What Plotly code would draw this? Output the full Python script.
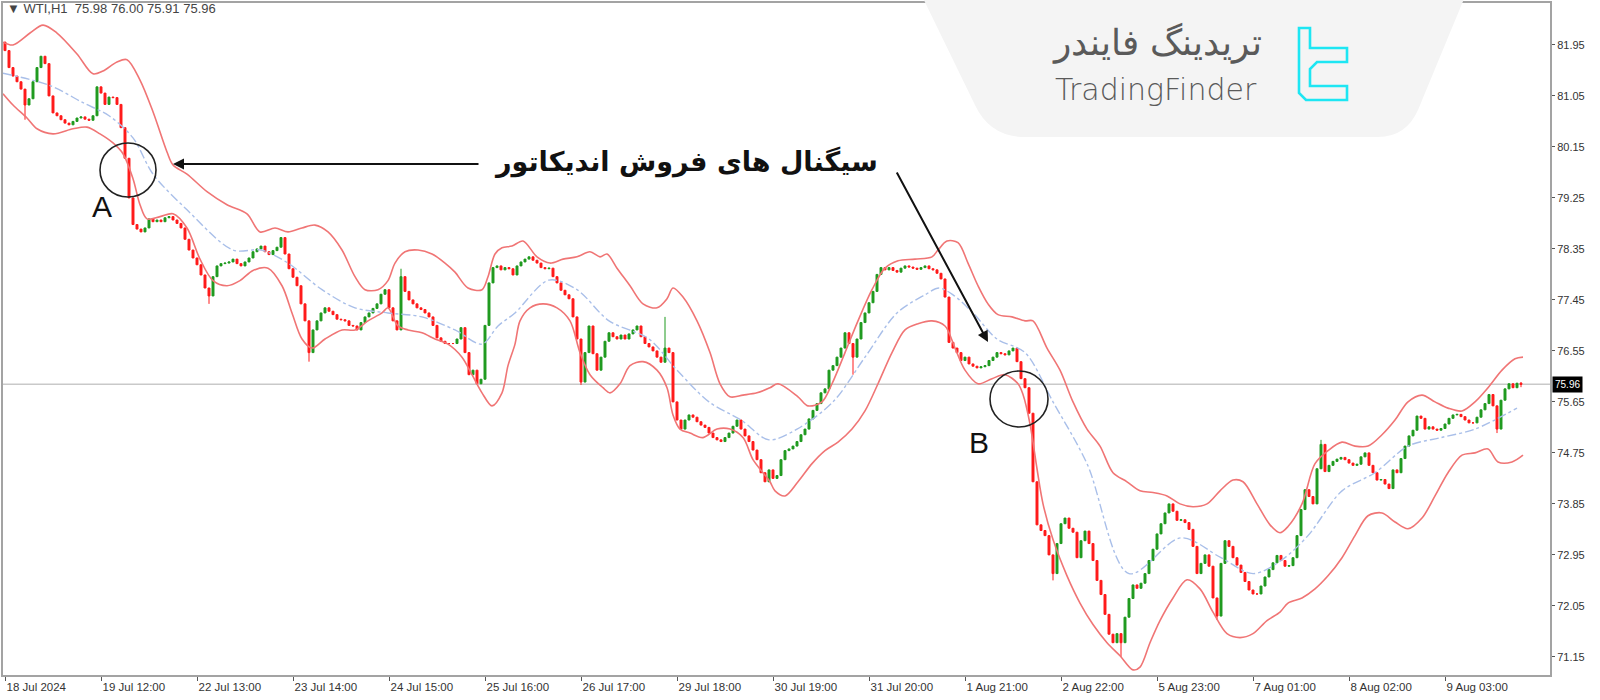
import plotly.graph_objects as go

W, H = 1600, 700
ML, MR, MT, MB = 3, 50, 3, 25
PW, PH = W - ML - MR, H - MT - MB

# ---------------- data ----------------
first_open = 82.00
closes = [
    81.85, 81.55, 81.40, 81.30, 81.17, 80.89, 81.00, 81.30, 81.55, 81.75, 81.62, 81.05, 80.75, 80.70, 80.63, 80.57, 80.54, 80.60, 80.66, 80.68, 80.64, 80.62, 80.70, 81.21,
    81.10, 80.90, 81.03, 81.02, 80.90, 80.49, 79.95, 79.25, 78.78, 78.70, 78.65, 78.72, 78.88, 78.83, 78.86, 78.83, 78.90, 78.92, 78.86, 78.80, 78.72, 78.52, 78.33, 78.19,
    78.07, 77.89, 77.66, 77.52, 77.86, 78.05, 78.09, 78.10, 78.12, 78.17, 78.09, 78.05, 78.12, 78.19, 78.30, 78.35, 78.40, 78.30, 78.25, 78.32, 78.38, 78.55, 78.26, 78.00,
    77.85, 77.70, 77.38, 77.08, 76.52, 76.92, 77.08, 77.22, 77.31, 77.25, 77.19, 77.11, 77.10, 77.08, 77.00, 76.99, 76.92, 77.05, 77.15, 77.22, 77.30, 77.38, 77.55, 77.63,
    77.31, 77.08, 76.92, 77.86, 77.60, 77.45, 77.38, 77.31, 77.28, 77.22, 77.15, 77.00, 76.78, 76.72, 76.68, 76.68, 76.68, 76.76, 76.96, 76.52, 76.13, 76.21, 75.97, 76.05,
    77.00, 77.75, 78.02, 78.05, 77.98, 78.02, 78.00, 77.89, 78.05, 78.12, 78.17, 78.21, 78.15, 78.10, 78.02, 78.00, 78.01, 77.86, 77.75, 77.62, 77.54, 77.47, 77.15, 76.76,
    76.00, 76.52, 76.99, 76.50, 76.21, 76.44, 76.72, 76.87, 76.80, 76.76, 76.83, 76.76, 76.85, 76.92, 76.99, 76.80, 76.68, 76.62, 76.55, 76.44, 76.35, 76.60, 76.52, 75.65,
    75.33, 75.17, 75.33, 75.42, 75.38, 75.30, 75.24, 75.20, 75.10, 75.02, 74.98, 74.95, 75.02, 75.10, 75.22, 75.33, 75.17, 75.05, 74.95, 74.80, 74.63, 74.40, 74.24, 74.45,
    74.30, 74.35, 74.63, 74.79, 74.82, 74.87, 74.95, 75.07, 75.17, 75.35, 75.50, 75.62, 75.81, 75.88, 76.21, 76.29, 76.44, 76.60, 76.87, 76.68, 76.44, 76.76, 77.05, 77.22,
    77.40, 77.60, 77.90, 78.02, 77.98, 78.02, 77.97, 77.94, 78.01, 78.05, 78.03, 78.01, 77.99, 78.02, 78.05, 78.00, 77.98, 77.92, 77.82, 77.50, 76.70, 76.60, 76.52, 76.38,
    76.44, 76.32, 76.28, 76.25, 76.27, 76.29, 76.38, 76.44, 76.52, 76.50, 76.48, 76.55, 76.60, 76.36, 76.06, 75.90, 75.45, 74.24, 73.48, 73.38, 73.29, 72.95, 72.62, 73.15,
    73.50, 73.60, 73.42, 73.35, 72.90, 73.20, 73.37, 73.15, 72.85, 72.50, 72.25, 71.90, 71.55, 71.40, 71.56, 71.40, 71.85, 72.18, 72.42, 72.36, 72.45, 72.62, 72.85, 73.05,
    73.32, 73.50, 73.69, 73.85, 73.72, 73.56, 73.57, 73.52, 73.40, 73.10, 72.62, 72.80, 72.95, 72.75, 72.19, 71.87, 72.80, 73.20, 73.10, 72.90, 72.77, 72.64, 72.48, 72.33,
    72.26, 72.26, 72.40, 72.56, 72.69, 72.81, 72.94, 72.85, 72.75, 72.76, 72.90, 73.29, 73.75, 74.10, 73.98, 73.85, 74.47, 74.90, 74.42, 74.53, 74.60, 74.64, 74.67, 74.63,
    74.57, 74.53, 74.55, 74.68, 74.75, 74.53, 74.40, 74.27, 74.28, 74.20, 74.12, 74.45, 74.40, 74.65, 74.87, 75.05, 75.15, 75.40, 75.36, 75.17, 75.21, 75.17, 75.15, 75.18,
    75.26, 75.36, 75.42, 75.43, 75.39, 75.33, 75.28, 75.28, 75.38, 75.51, 75.62, 75.78, 75.58, 75.17, 75.68, 75.88, 75.97, 75.90, 75.98, 75.96,
]
spike_high = [(99, 78.00), (165, 77.15), (329, 74.98), (379, 76.00)]
spike_low = [(5, 80.63), (51, 77.38), (76, 76.36), (144, 75.95), (212, 76.13),
             (262, 72.50), (279, 71.15), (303, 71.80), (373, 75.10), (379, 75.91)]

upper_band = [(-0.5, 82.00), (2, 81.95), (6.25, 82.16), (9.5, 82.30), (13, 82.16), (18, 81.79), (22, 81.44), (24.5, 81.49),
    (28, 81.65), (30.5, 81.69), (33.75, 81.33), (37, 80.77), (40.5, 80.06), (42, 79.83), (45.5, 79.67), (50.5, 79.36),
    (55.5, 79.13), (60.5, 78.97), (63.75, 78.65), (67.5, 78.72), (70.75, 78.65), (74.25, 78.72), (77.5, 78.77), (80.75, 78.65),
    (84.25, 78.33), (87.5, 77.86), (90, 77.63), (93.25, 77.63), (95.75, 77.79), (97.5, 78.10), (100, 78.30), (103.25, 78.33),
    (106.75, 78.26), (110, 78.10), (112.5, 77.94), (115.75, 77.66), (119.25, 77.63), (120.75, 77.86), (122.5, 78.26), (124.25, 78.37),
    (126.75, 78.40), (129.5, 78.49), (133, 78.21), (136.25, 78.10), (139.5, 78.17), (143, 78.21), (146.25, 78.30), (148.75, 78.21),
    (150.5, 78.26), (153, 78.01), (156.25, 77.70), (159.5, 77.38), (163, 77.31), (165.5, 77.47), (167, 77.66), (169.5, 77.50),
    (173, 77.08), (176.25, 76.52), (178.75, 75.97), (181.25, 75.74), (184.5, 75.77), (188, 75.81), (191.25, 75.90), (193.25, 75.97),
    (198.25, 75.74), (200.75, 75.58), (204.25, 75.65), (206.75, 75.97), (210, 76.52), (213.25, 77.08), (216.75, 77.63), (220, 78.01),
    (223.25, 78.14), (227.5, 78.17), (231.75, 78.21), (233.25, 78.33), (235.5, 78.49), (238.25, 78.46), (240.75, 78.10), (243.25, 77.70),
    (245.75, 77.38), (248.25, 77.19), (251.75, 77.15), (255, 77.08), (257, 77.08), (260.5, 76.60), (263.75, 76.21), (267, 75.65),
    (270.5, 75.17), (273.75, 74.87), (277, 74.40), (280.5, 74.24), (283.75, 74.08), (287, 74.05), (290.5, 73.99), (293.75, 73.85),
    (297, 73.80), (300.5, 73.85), (303.75, 74.08), (307, 74.27), (309.5, 74.24), (313, 73.85), (316.25, 73.48), (318.75, 73.34),
    (320.75, 73.45), (324.25, 73.85), (327.5, 74.56), (330.75, 74.79), (334.25, 74.94), (337.5, 74.87), (340.75, 74.87), (344.25, 75.07),
    (347.5, 75.33), (350.75, 75.65), (354.25, 75.77), (357.5, 75.65), (360.75, 75.54), (364.25, 75.49), (367.5, 75.65), (370.75, 75.90),
    (374.25, 76.21), (377.5, 76.41), (379.5, 76.44)]

lower_band = [(-0.5, 81.09), (2, 80.89), (5.5, 80.66), (8, 80.47), (12, 80.38), (17, 80.47), (20.5, 80.50), (23.75, 80.38),
    (27, 80.22), (29.5, 80.03), (32, 79.59), (33.75, 79.13), (35.5, 78.88), (38.75, 78.92), (42, 78.97), (45.5, 78.72),
    (48.75, 78.17), (52, 77.79), (55.5, 77.70), (58.75, 77.79), (62, 77.97), (65.75, 78.01), (69.25, 77.70), (71.75, 77.22),
    (74.25, 76.76), (76.75, 76.60), (80, 76.76), (84.25, 76.92), (87.5, 76.92), (90.75, 77.08), (94.25, 77.22), (95.75, 77.31),
    (98.25, 76.99), (100.75, 76.92), (104.25, 76.87), (107.5, 76.76), (110.75, 76.67), (114.25, 76.44), (116.75, 76.13), (119.25, 75.81),
    (121.75, 75.58), (124.25, 75.81), (125.75, 76.29), (127.5, 76.67), (128.75, 77.08), (131.25, 77.31), (134.5, 77.38), (138, 77.31),
    (141.25, 77.08), (143.75, 76.52), (146.25, 76.13), (149.5, 75.90), (151.25, 75.81), (153.75, 75.97), (156.25, 76.29), (159.5, 76.36),
    (163, 76.21), (165.5, 75.90), (167, 75.42), (168.75, 75.17), (171.25, 75.10), (174.5, 75.02), (178, 75.17), (181.25, 75.17),
    (184.5, 75.02), (187, 74.63), (189.5, 74.40), (191.25, 74.24), (192.5, 74.08), (195, 73.99), (198.25, 74.24), (201.75, 74.56),
    (205, 74.79), (208.25, 74.94), (211.75, 75.17), (215, 75.49), (218.25, 75.97), (221.75, 76.52), (225, 76.92), (228.25, 77.03),
    (231.75, 77.08), (235, 76.99), (237.5, 76.60), (240, 76.21), (243.25, 75.97), (246.75, 76.06), (250, 76.13), (253.25, 75.97),
    (254.5, 75.78), (256.25, 75.26), (258, 74.47), (259.5, 73.85), (262, 73.22), (265.5, 72.58), (268.75, 72.10), (272, 71.72),
    (275.5, 71.40), (278.75, 71.17), (282, 70.92), (283.75, 70.97), (286.25, 71.40), (288.75, 71.79), (292, 72.19), (295.5, 72.51),
    (298.75, 72.35), (302, 71.94), (305.5, 71.56), (308.75, 71.49), (312, 71.56), (315.5, 71.79), (318.75, 71.94), (320.75, 72.10),
    (324.25, 72.19), (327.5, 72.35), (330.75, 72.58), (334.25, 72.90), (337.5, 73.29), (340.75, 73.64), (344.25, 73.69), (347.5, 73.53),
    (350.75, 73.41), (354.25, 73.60), (357.5, 73.99), (360.75, 74.40), (364.25, 74.71), (367.5, 74.75), (370.75, 74.82), (373.25, 74.59),
    (376.75, 74.59), (379.5, 74.71)]

middle_band = [(-0.5, 81.45), (11, 81.24), (19.5, 80.93), (26, 80.70), (32, 80.31), (37, 79.67), (45.5, 79.04), (57, 78.33),
    (64, 78.33), (70.75, 78.10), (79.25, 77.63), (87.5, 77.31), (95.75, 77.22), (104.25, 77.15), (112.5, 76.92), (119.25, 76.67),
    (123.25, 76.99), (127.5, 77.22), (136, 77.80), (143, 77.63), (151, 77.08), (161, 76.76), (168, 76.21), (176, 75.65),
    (184, 75.33), (191, 74.98), (198, 75.17), (207, 75.65), (215, 76.44), (223, 77.22), (230, 77.54), (233.5, 77.66),
    (237, 77.54), (242, 77.22), (248, 76.76), (255, 76.52), (262, 75.65), (270.5, 74.56), (281, 72.62), (294, 73.25),
    (304, 72.90), (312, 72.62), (319, 72.85), (325.75, 73.29), (334.25, 74.08), (342.5, 74.40), (350.75, 74.87), (359, 75.02),
    (367.5, 75.17), (378, 75.54)]

x_label_bars = [0, 24, 48, 72, 96, 120, 144, 168, 192, 216, 240, 264, 288, 312, 336, 360]
x_labels = ["18 Jul 2024", "19 Jul 12:00", "22 Jul 13:00", "23 Jul 14:00", "24 Jul 15:00", "25 Jul 16:00",
            "26 Jul 17:00", "29 Jul 18:00", "30 Jul 19:00", "31 Jul 20:00", "1 Aug 21:00", "2 Aug 22:00",
            "5 Aug 23:00", "7 Aug 01:00", "8 Aug 02:00", "9 Aug 03:00"]
y_ticks = [81.95, 81.05, 80.15, 79.25, 78.35, 77.45, 76.55, 75.65, 74.75, 73.85, 72.95, 72.05, 71.15]
last_price = 75.96
header = "▼ WTI,H1  75.98 76.00 75.91 75.96"
signal_text = "سیگنال های فروش اندیکاتور"
brand_fa = "تریدینگ فایندر"
brand_en = "TradingFinder"

# ---------------- build candles ----------------
n = len(closes)
bars = list(range(n))
opens = [first_open] + closes[:-1]
highs = [max(o, c) for o, c in zip(opens, closes)]
lows = [min(o, c) for o, c in zip(opens, closes)]
for b, v in spike_high:
    highs[b] = max(highs[b], v)
for b, v in spike_low:
    lows[b] = min(lows[b], v)

def px(x):
    return (x - ML) / PW

def py(y):
    return (H - MB - y) / PH

def P(x, y):
    return f"{px(x):.5f},{py(y):.5f}"

BAND = "#f07575"
GREEN = "#1f9a1f"
RED = "#ff1a1a"

fig = go.Figure()
fig.add_trace(go.Candlestick(
    x=bars, open=opens, high=highs, low=lows, close=closes,
    increasing=dict(line=dict(color=GREEN, width=1), fillcolor=GREEN),
    decreasing=dict(line=dict(color=RED, width=1), fillcolor=RED),
    whiskerwidth=0, hoverinfo="skip", showlegend=False))

for band, color, dash, width in [(upper_band, BAND, "solid", 1.6), (lower_band, BAND, "solid", 1.6),
                                 (middle_band, "#a9bfe9", "dashdot", 1.4)]:
    fig.add_trace(go.Scatter(x=[b for b, _ in band], y=[v for _, v in band], mode="lines",
                             line=dict(color=color, width=width, dash=dash, shape="spline", smoothing=0.9),
                             hoverinfo="skip", showlegend=False))

shapes = []
shapes.append(dict(type="line", xref="paper", yref="y", x0=0, x1=1, y0=last_price, y1=last_price,
                   line=dict(color="#c9c9c9", width=1.5), layer="below"))
logo_path = ("M " + P(921, -6) + " L " + P(975, 105) + " Q " + P(990, 137) + " " + P(1025, 137) +
             " L " + P(1378, 137) + " Q " + P(1406, 137) + " " + P(1418, 110) + " L " + P(1466, -6) + " Z")
shapes.append(dict(type="path", xref="paper", yref="paper", path=logo_path,
                   fillcolor="#f4f4f4", line=dict(width=0), layer="above"))
icon_path = ("M " + P(1299, 28) + " L " + P(1310, 28) + " L " + P(1310, 48) + " L " + P(1347, 48) +
             " L " + P(1347, 62) + " L " + P(1317, 62) + " L " + P(1310, 69) + " L " + P(1310, 86) +
             " L " + P(1347, 86) + " L " + P(1347, 100) + " L " + P(1306, 100) + " L " + P(1299, 93) + " Z")
shapes.append(dict(type="path", xref="paper", yref="paper", path=icon_path,
                   fillcolor="rgba(0,0,0,0)", line=dict(color="#1de6f3", width=2.6), layer="above"))
shapes.append(dict(type="circle", xref="paper", yref="paper", x0=px(100), x1=px(156), y0=py(197), y1=py(143),
                   line=dict(color="#222222", width=1.6), layer="above"))
shapes.append(dict(type="circle", xref="paper", yref="paper", x0=px(990), x1=px(1048), y0=py(427), y1=py(371),
                   line=dict(color="#222222", width=1.6), layer="above"))

def txt(x, y, text, size, color, family, weight="normal", anchor="center"):
    return dict(xref="paper", yref="paper", x=px(x), y=py(y), xanchor=anchor, yanchor="middle",
                text=text, showarrow=False, font=dict(size=size, color=color, family=family, weight=weight))

ann = []
ann.append(txt(5, 9, header, 13, "#444", "Liberation Sans", anchor="left"))
ann.append(dict(xref="paper", yref="y", x=px(1552), y=last_price, xanchor="left", yanchor="middle",
                text=f"{last_price:.2f}", showarrow=False, bgcolor="#000000", borderpad=2,
                font=dict(size=10, color="#ffffff", family="Liberation Sans")))
ann.append(txt(686, 162, signal_text, 27, "#111111", "DejaVu Sans", weight="bold"))
ann.append(dict(xref="paper", yref="paper", x=px(173), y=py(164), ax=307, ay=0, text="",
                showarrow=True, arrowhead=2, arrowsize=1.1, arrowwidth=2, arrowcolor="#111111", standoff=0))
ann.append(dict(xref="paper", yref="paper", x=px(988), y=py(342), ax=-92, ay=-171, text="",
                showarrow=True, arrowhead=2, arrowsize=1.1, arrowwidth=2, arrowcolor="#111111", standoff=0))
ann.append(txt(102, 206, "A", 30, "#111111", "Liberation Sans"))
ann.append(txt(979, 442, "B", 30, "#111111", "Liberation Sans"))
ann.append(txt(1157, 43, brand_fa, 36, "#5a5a5a", "DejaVu Sans", weight=200))
ann.append(txt(1156, 90, brand_en, 30, "#5a5a5a", "DejaVu Sans", weight=200))

fig.update_layout(
    width=W, height=H, margin=dict(l=ML, r=MR, t=MT, b=MB),
    paper_bgcolor="white", plot_bgcolor="white", showlegend=False, hovermode=False,
    font=dict(family="Liberation Sans", size=11, color="#333"),
    shapes=shapes, annotations=ann,
    xaxis=dict(range=[-0.5, 386.25], tickvals=x_label_bars, ticktext=x_labels, ticks="outside",
               ticklen=4, tickcolor="#555", ticklabelposition="outside right",
               tickfont=dict(size=11.5, color="#333"), showgrid=False, zeroline=False,
               showline=True, linecolor="#a3a3a3", linewidth=2, mirror=True,
               rangeslider=dict(visible=False), fixedrange=True, automargin=False),
    yaxis=dict(range=[70.83, 82.69], side="right", tickvals=y_ticks, ticktext=[f"{v:.2f}" for v in y_ticks],
               ticks="outside", ticklen=3, tickcolor="#555", tickfont=dict(size=11, color="#333"),
               showgrid=False, zeroline=False, showline=True, linecolor="#a3a3a3", linewidth=2, mirror=True,
               fixedrange=True, automargin=False),
)

fig.write_html("out.html", config={"displayModeBar": False, "staticPlot": True},
               post_script=["document.body.style.margin='0';document.body.style.padding='0';"])
